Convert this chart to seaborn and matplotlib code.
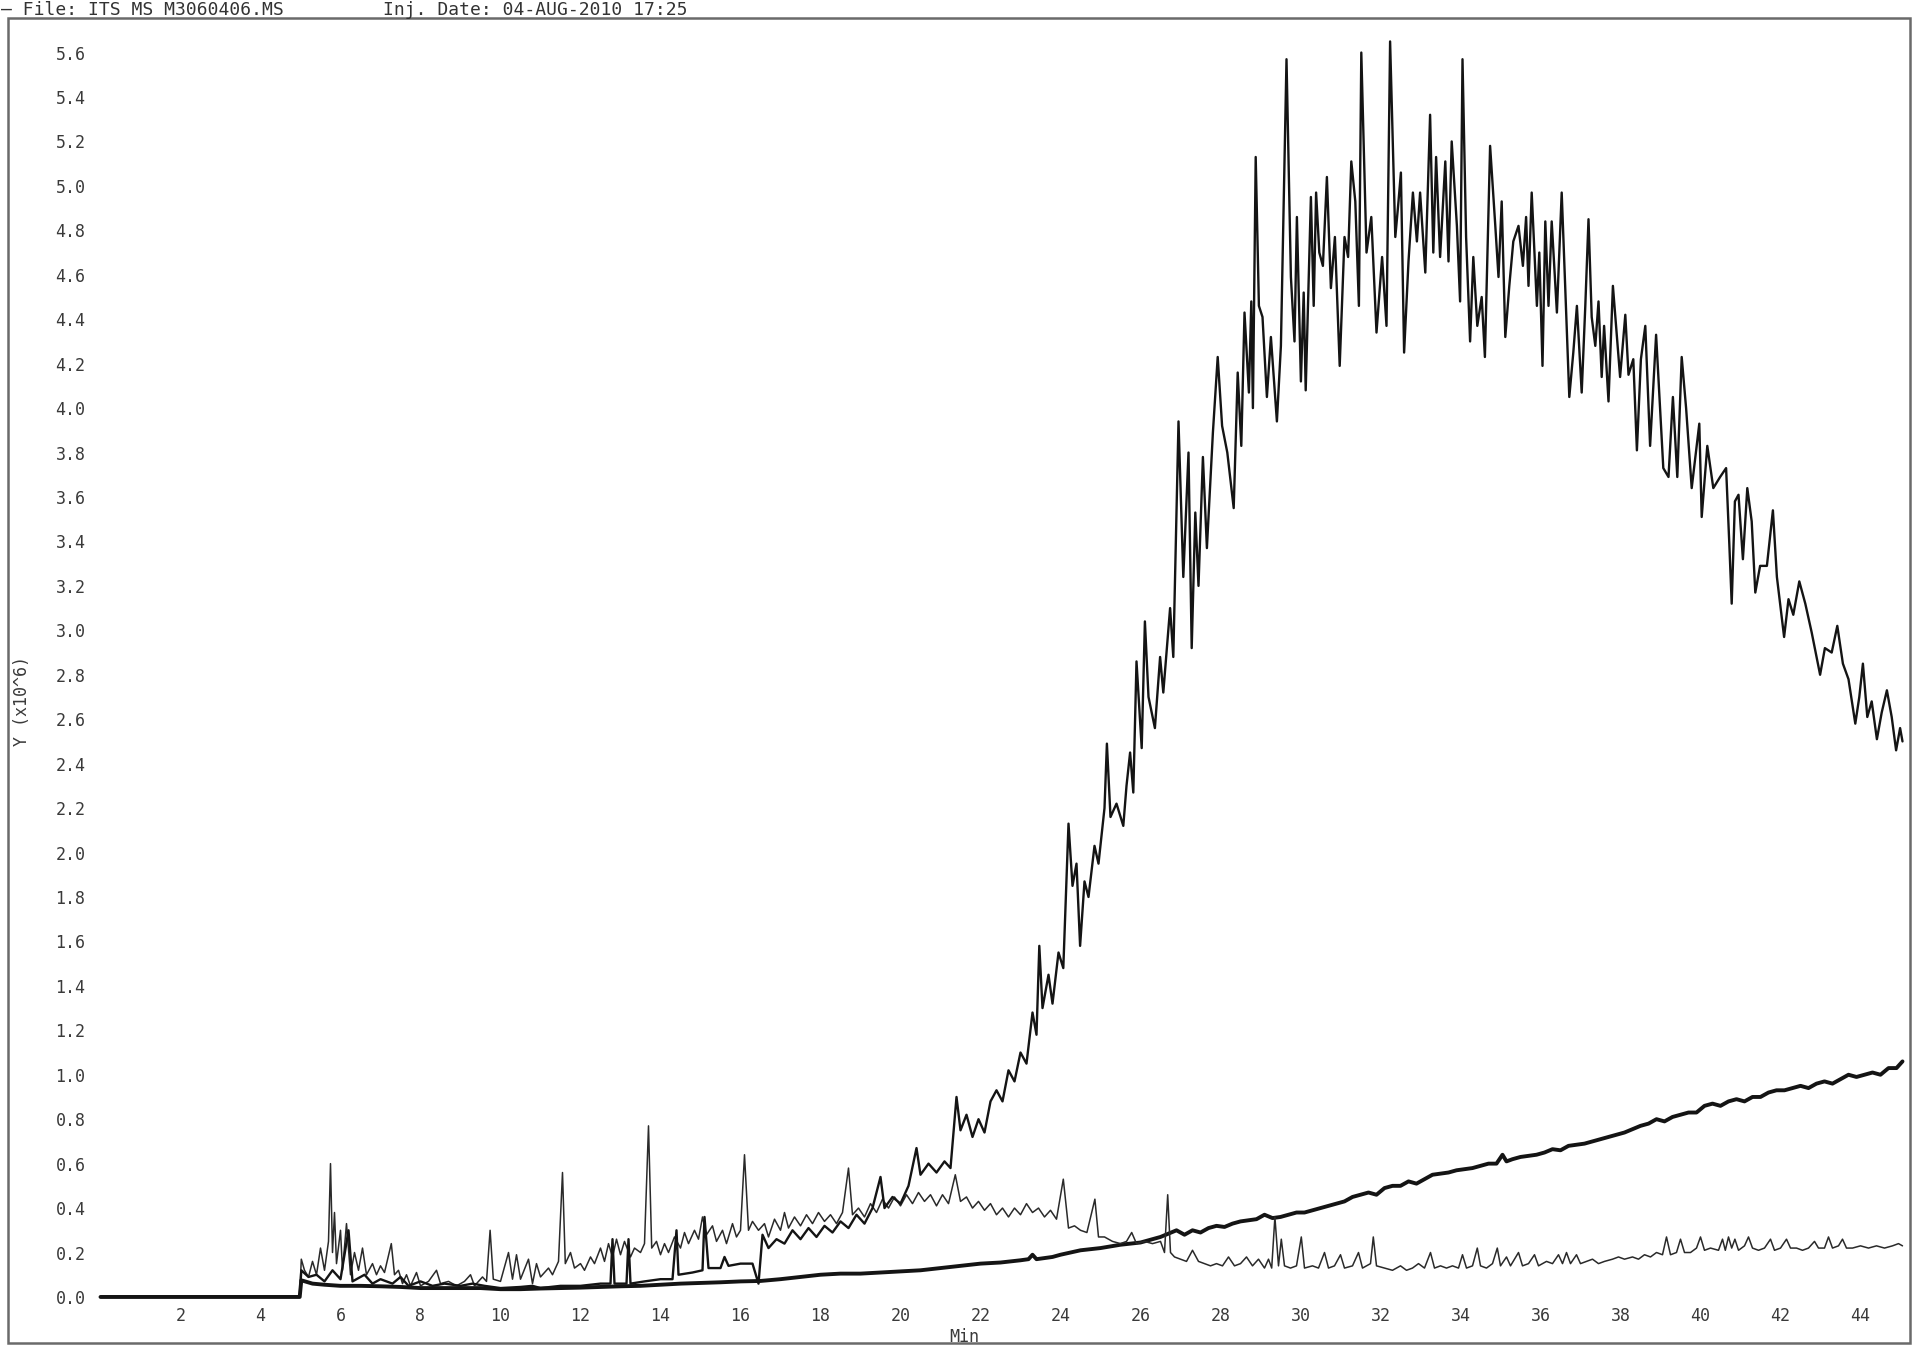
import numpy as np
import pandas as pd
import matplotlib
matplotlib.use("Agg")
import matplotlib.pyplot as plt
from matplotlib.ticker import MultipleLocator, FormatStrFormatter
from matplotlib.patches import Rectangle
import seaborn as sns

# ---------------- data ----------------
# Trace A: large hump (TIC-like)
a_time = [0.0, 4.98, 5.02, 5.2, 5.4, 5.6, 5.8, 6.0, 6.2, 6.3, 6.6, 6.8, 7.0, 7.3, 7.5, 7.7, 8.0, 8.3, 8.6, 9.0,
          9.3, 9.6, 10.0, 10.5, 10.8, 11.0, 11.5, 12.0, 12.5, 12.75, 12.8, 12.85, 13.15, 13.2, 13.25, 13.6, 14.0,
          14.3, 14.4, 14.45, 14.8, 15.05, 15.1, 15.2, 15.5, 15.6, 15.7, 16.0, 16.3, 16.45, 16.55, 16.7, 16.9,
          17.1, 17.3, 17.5, 17.7, 17.9, 18.1, 18.3, 18.5, 18.7, 18.9, 19.1, 19.3, 19.5, 19.6, 19.8, 20.0, 20.2,
          20.4, 20.5, 20.7, 20.9, 21.1, 21.25, 21.4, 21.5, 21.65, 21.8, 21.95, 22.1, 22.25, 22.4, 22.55, 22.7,
          22.85, 23.0, 23.15, 23.3, 23.4, 23.47, 23.55, 23.7, 23.8, 23.95, 24.07, 24.2, 24.3, 24.4, 24.49, 24.6,
          24.7, 24.85, 24.95, 25.1, 25.16, 25.25, 25.4, 25.57, 25.65, 25.74, 25.82, 25.9, 26.03, 26.11, 26.2,
          26.36, 26.49, 26.57, 26.74, 26.82, 26.95, 27.07, 27.2, 27.28, 27.37, 27.45, 27.56, 27.66, 27.81, 27.93,
          28.04, 28.17, 28.33, 28.43, 28.52, 28.6, 28.71, 28.77, 28.81, 28.88, 28.96, 29.05, 29.16, 29.26, 29.41,
          29.51, 29.65, 29.76, 29.85, 29.91, 30.01, 30.08, 30.13, 30.26, 30.33, 30.39, 30.47, 30.56, 30.66, 30.76,
          30.86, 30.98, 31.1, 31.19, 31.27, 31.37, 31.46, 31.52, 31.65, 31.77, 31.9, 32.04, 32.15, 32.24, 32.37,
          32.45, 32.51, 32.59, 32.7, 32.81, 32.91, 32.99, 33.12, 33.24, 33.32, 33.39, 33.49, 33.62, 33.7, 33.78,
          33.91, 33.99, 34.05, 34.14, 34.24, 34.32, 34.42, 34.53, 34.61, 34.74, 34.87, 34.95, 35.03, 35.12, 35.22,
          35.32, 35.45, 35.56, 35.64, 35.7, 35.78, 35.91, 35.97, 36.05, 36.12, 36.2, 36.28, 36.41, 36.53, 36.64,
          36.72, 36.82, 36.91, 37.03, 37.12, 37.2, 37.28, 37.37, 37.45, 37.53, 37.59, 37.7, 37.81, 37.91, 37.99,
          38.12, 38.2, 38.32, 38.41, 38.51, 38.62, 38.74, 38.89, 39.07, 39.2, 39.31, 39.42, 39.53, 39.64, 39.78,
          39.97, 40.03, 40.17, 40.32, 40.49, 40.64, 40.72, 40.78, 40.86, 40.95, 41.06, 41.17, 41.28, 41.37, 41.49,
          41.66, 41.81, 41.91, 42.09, 42.2, 42.32, 42.47, 42.62, 42.78, 42.99, 43.11, 43.28, 43.42, 43.56, 43.7,
          43.87, 43.97, 44.06, 44.17, 44.28, 44.41, 44.53, 44.66, 44.78, 44.89, 44.99, 45.05]
a_val = [0.0, 0.0, 0.12, 0.09, 0.1, 0.07, 0.12, 0.08, 0.3, 0.07, 0.1, 0.06, 0.08, 0.06, 0.09, 0.05, 0.07, 0.05, 0.06, 0.05,
         0.06, 0.05, 0.04, 0.045, 0.05, 0.04, 0.05, 0.05, 0.06, 0.06, 0.26, 0.06, 0.06, 0.26, 0.06, 0.07, 0.08,
         0.08, 0.3, 0.1, 0.11, 0.12, 0.36, 0.13, 0.13, 0.18, 0.14, 0.15, 0.15, 0.06, 0.28, 0.22, 0.26,
         0.24, 0.3, 0.26, 0.31, 0.27, 0.32, 0.29, 0.34, 0.31, 0.37, 0.33, 0.4, 0.54, 0.4, 0.45, 0.42, 0.5,
         0.67, 0.55, 0.6, 0.56, 0.61, 0.58, 0.9, 0.75, 0.82, 0.72, 0.8, 0.74, 0.88, 0.93, 0.88, 1.02,
         0.97, 1.1, 1.05, 1.28, 1.18, 1.58, 1.3, 1.45, 1.32, 1.55, 1.48, 2.13, 1.85, 1.95, 1.58, 1.87,
         1.8, 2.03, 1.95, 2.2, 2.49, 2.16, 2.22, 2.12, 2.3, 2.45, 2.27, 2.86, 2.47, 3.04, 2.7,
         2.56, 2.88, 2.72, 3.1, 2.88, 3.94, 3.24, 3.8, 2.92, 3.53, 3.2, 3.78, 3.37, 3.89, 4.23,
         3.92, 3.8, 3.55, 4.16, 3.83, 4.43, 4.07, 4.48, 4.0, 5.13, 4.46, 4.41, 4.05, 4.32, 3.94,
         4.28, 5.57, 4.59, 4.3, 4.86, 4.12, 4.52, 4.08, 4.95, 4.46, 4.97, 4.7, 4.64, 5.04, 4.54,
         4.77, 4.19, 4.77, 4.68, 5.11, 4.93, 4.46, 5.6, 4.7, 4.86, 4.34, 4.68, 4.37, 5.65, 4.77,
         4.93, 5.06, 4.25, 4.66, 4.97, 4.75, 4.97, 4.61, 5.32, 4.7, 5.13, 4.68, 5.11, 4.66, 5.2,
         4.82, 4.48, 5.57, 4.77, 4.3, 4.68, 4.37, 4.5, 4.23, 5.18, 4.82, 4.59, 4.93, 4.32, 4.55,
         4.75, 4.82, 4.64, 4.86, 4.55, 4.97, 4.46, 4.7, 4.19, 4.84, 4.46, 4.84, 4.43, 4.97, 4.43,
         4.05, 4.25, 4.46, 4.07, 4.46, 4.85, 4.41, 4.28, 4.48, 4.14, 4.37, 4.03, 4.55, 4.32, 4.14,
         4.42, 4.15, 4.22, 3.81, 4.22, 4.37, 3.83, 4.33, 3.73, 3.69, 4.05, 3.69, 4.23, 4.0, 3.64,
         3.93, 3.51, 3.83, 3.64, 3.69, 3.73, 3.39, 3.12, 3.58, 3.61, 3.32, 3.64, 3.49, 3.17, 3.29,
         3.29, 3.54, 3.24, 2.97, 3.14, 3.07, 3.22, 3.12, 2.99, 2.8, 2.92, 2.9, 3.02, 2.85, 2.78,
         2.58, 2.7, 2.85, 2.61, 2.68, 2.51, 2.63, 2.73, 2.61, 2.46, 2.56, 2.5]

# Trace B: thin noisy trace with sharp peaks
b_time = [0.0, 4.98, 5.02, 5.1, 5.2, 5.3, 5.4, 5.5, 5.6, 5.7, 5.75, 5.8, 5.85, 5.9, 6.0, 6.05, 6.15, 6.25, 6.35, 6.45,
          6.55, 6.65, 6.8, 6.9, 7.0, 7.1, 7.27, 7.35, 7.45, 7.55, 7.65, 7.75, 7.9, 8.0, 8.2, 8.4, 8.5, 8.7, 8.9,
          9.1, 9.25, 9.35, 9.55, 9.65, 9.74, 9.82, 10.0, 10.2, 10.3, 10.4, 10.5, 10.7, 10.8, 10.9, 11.0, 11.2,
          11.3, 11.45, 11.55, 11.62, 11.75, 11.85, 12.0, 12.1, 12.25, 12.35, 12.5, 12.6, 12.7, 12.8, 12.9, 13.0,
          13.1, 13.25, 13.35, 13.5, 13.6, 13.7, 13.78, 13.9, 14.0, 14.1, 14.2, 14.35, 14.5, 14.6, 14.7, 14.85,
          14.95, 15.05, 15.15, 15.3, 15.4, 15.55, 15.65, 15.8, 15.9, 16.0, 16.1, 16.2, 16.3, 16.45, 16.6, 16.7,
          16.85, 17.0, 17.1, 17.2, 17.35, 17.5, 17.65, 17.8, 17.95, 18.1, 18.25, 18.4, 18.55, 18.7, 18.8, 18.95,
          19.1, 19.25, 19.4, 19.55, 19.7, 19.85, 20.0, 20.15, 20.3, 20.45, 20.6, 20.75, 20.9, 21.05, 21.2, 21.37,
          21.5, 21.65, 21.8, 21.95, 22.1, 22.25, 22.4, 22.55, 22.7, 22.85, 23.0, 23.15, 23.3, 23.45, 23.6, 23.75,
          23.9, 24.07, 24.2, 24.35, 24.5, 24.66, 24.86, 24.95, 25.1, 25.3, 25.5, 25.65, 25.78, 25.9, 26.1, 26.3,
          26.5, 26.6, 26.68, 26.75, 26.85, 27.0, 27.15, 27.3, 27.45, 27.6, 27.75, 27.9, 28.05, 28.2, 28.35, 28.5,
          28.65, 28.8, 28.95, 29.1, 29.2, 29.28, 29.36, 29.45, 29.52, 29.6, 29.75, 29.9, 30.02, 30.1, 30.3, 30.45,
          30.6, 30.7, 30.85, 31.0, 31.1, 31.3, 31.45, 31.55, 31.75, 31.82, 31.9, 32.1, 32.3, 32.5, 32.65, 32.8,
          32.95, 33.1, 33.25, 33.35, 33.5, 33.65, 33.8, 33.95, 34.05, 34.15, 34.3, 34.42, 34.5, 34.65, 34.8, 34.92,
          35.0, 35.15, 35.25, 35.45, 35.55, 35.7, 35.85, 35.95, 36.15, 36.3, 36.45, 36.55, 36.65, 36.75, 36.9,
          37.0, 37.15, 37.3, 37.45, 37.6, 37.8, 37.95, 38.1, 38.3, 38.45, 38.6, 38.75, 38.9, 39.05, 39.15, 39.25,
          39.4, 39.5, 39.6, 39.75, 39.9, 40.0, 40.1, 40.25, 40.45, 40.55, 40.62, 40.7, 40.78, 40.86, 40.95, 41.1,
          41.2, 41.3, 41.45, 41.6, 41.75, 41.85, 42.0, 42.15, 42.25, 42.4, 42.55, 42.7, 42.85, 42.95, 43.1, 43.2,
          43.3, 43.45, 43.55, 43.65, 43.8, 44.0, 44.2, 44.4, 44.6, 44.8, 44.95, 45.05]
b_val = [0.0, 0.0, 0.17, 0.12, 0.09, 0.16, 0.1, 0.22, 0.12, 0.25, 0.6, 0.2, 0.38, 0.15, 0.3, 0.12, 0.33, 0.1, 0.2, 0.12,
         0.22, 0.1, 0.15, 0.1, 0.14, 0.11, 0.24, 0.1, 0.12, 0.06, 0.1, 0.05, 0.11, 0.05, 0.07, 0.12, 0.06, 0.07, 0.05,
         0.07, 0.1, 0.05, 0.09, 0.07, 0.3, 0.08, 0.07, 0.2, 0.08, 0.19, 0.08, 0.17, 0.06, 0.15, 0.09, 0.13,
         0.1, 0.16, 0.56, 0.15, 0.2, 0.13, 0.15, 0.12, 0.18, 0.15, 0.22, 0.16, 0.24, 0.18, 0.26, 0.19,
         0.25, 0.18, 0.22, 0.2, 0.24, 0.77, 0.22, 0.25, 0.19, 0.24, 0.2, 0.27, 0.22, 0.29, 0.24, 0.3,
         0.26, 0.36, 0.28, 0.32, 0.25, 0.3, 0.24, 0.33, 0.27, 0.3, 0.64, 0.3, 0.34, 0.3, 0.33, 0.27,
         0.35, 0.3, 0.38, 0.31, 0.36, 0.32, 0.37, 0.33, 0.38, 0.34, 0.37, 0.33, 0.38, 0.58, 0.37, 0.4,
         0.36, 0.42, 0.38, 0.44, 0.4, 0.45, 0.41, 0.46, 0.42, 0.47, 0.43, 0.46, 0.41, 0.46, 0.42, 0.55,
         0.43, 0.45, 0.4, 0.43, 0.39, 0.42, 0.37, 0.4, 0.36, 0.4, 0.37, 0.42, 0.38, 0.4, 0.36, 0.39,
         0.35, 0.53, 0.31, 0.32, 0.3, 0.29, 0.44, 0.27, 0.27, 0.25, 0.24, 0.25, 0.29, 0.24, 0.25, 0.24,
         0.25, 0.2, 0.46, 0.2, 0.18, 0.17, 0.16, 0.21, 0.16, 0.15, 0.14, 0.15, 0.14, 0.18, 0.14, 0.15,
         0.18, 0.14, 0.17, 0.13, 0.17, 0.13, 0.36, 0.14, 0.26, 0.14, 0.13, 0.14, 0.27, 0.13, 0.14, 0.13,
         0.2, 0.13, 0.14, 0.19, 0.13, 0.14, 0.2, 0.13, 0.15, 0.27, 0.14, 0.13, 0.12, 0.14, 0.12, 0.13,
         0.15, 0.13, 0.2, 0.13, 0.14, 0.13, 0.14, 0.13, 0.19, 0.13, 0.14, 0.22, 0.14, 0.13, 0.15, 0.22,
         0.14, 0.18, 0.14, 0.2, 0.14, 0.15, 0.19, 0.14, 0.16, 0.15, 0.19, 0.15, 0.2, 0.15, 0.19,
         0.15, 0.16, 0.17, 0.15, 0.16, 0.17, 0.18, 0.17, 0.18, 0.17, 0.19, 0.18, 0.2, 0.19, 0.27, 0.19,
         0.2, 0.26, 0.2, 0.2, 0.22, 0.27, 0.21, 0.22, 0.21, 0.26, 0.21, 0.27, 0.22, 0.26, 0.21, 0.23,
         0.27, 0.22, 0.21, 0.22, 0.26, 0.21, 0.22, 0.26, 0.22, 0.22, 0.21, 0.22, 0.25, 0.22, 0.22, 0.27,
         0.22, 0.23, 0.26, 0.22, 0.22, 0.23, 0.22, 0.23, 0.22, 0.23, 0.24, 0.23]

# Trace C: thick, slowly rising baseline trace
c_time = [0.0, 4.98, 5.02, 5.3, 5.6, 6.0, 6.5, 7.0, 7.5, 8.0, 8.5, 9.0, 9.5, 10.0, 10.5, 11.0, 11.5, 12.0, 12.5,
          13.0, 13.5, 14.0, 14.5, 15.0, 15.5, 16.0, 16.5, 17.0, 17.5, 18.0, 18.5, 19.0, 19.5, 20.0, 20.5, 21.0,
          21.5, 22.0, 22.5, 23.0, 23.2, 23.3, 23.4, 23.8, 24.0, 24.5, 25.0, 25.5, 26.0, 26.3, 26.5, 26.7, 26.9,
          27.1, 27.3, 27.5, 27.7, 27.9, 28.1, 28.3, 28.5, 28.7, 28.9, 29.1, 29.3, 29.5, 29.7, 29.9, 30.1, 30.3,
          30.5, 30.7, 30.9, 31.1, 31.3, 31.5, 31.7, 31.9, 32.1, 32.3, 32.5, 32.7, 32.9, 33.1, 33.3, 33.5, 33.7,
          33.9, 34.1, 34.3, 34.5, 34.7, 34.9, 35.05, 35.15, 35.3, 35.5, 35.7, 35.9, 36.1, 36.3, 36.5, 36.7, 36.9,
          37.1, 37.3, 37.5, 37.7, 37.9, 38.1, 38.3, 38.5, 38.7, 38.9, 39.1, 39.3, 39.5, 39.7, 39.9, 40.1, 40.3,
          40.5, 40.7, 40.9, 41.1, 41.3, 41.5, 41.7, 41.9, 42.1, 42.3, 42.5, 42.7, 42.9, 43.1, 43.3, 43.5, 43.7,
          43.9, 44.1, 44.3, 44.5, 44.7, 44.9, 45.05]
c_val = [0.0, 0.0, 0.075, 0.06, 0.055, 0.05, 0.05, 0.048, 0.045, 0.04, 0.04, 0.04, 0.04, 0.035, 0.035, 0.038, 0.04,
         0.042, 0.045, 0.048, 0.05, 0.055, 0.06, 0.063, 0.066, 0.07, 0.072, 0.08, 0.09, 0.1, 0.105, 0.105, 0.11,
         0.115, 0.12, 0.13, 0.14, 0.15, 0.155, 0.165, 0.17, 0.19, 0.17, 0.18, 0.19, 0.21, 0.22, 0.235, 0.245,
         0.26, 0.27, 0.285, 0.3, 0.28, 0.3, 0.29, 0.31, 0.32, 0.315, 0.33, 0.34, 0.345, 0.35, 0.37, 0.355, 0.36,
         0.37, 0.38, 0.38, 0.39, 0.4, 0.41, 0.42, 0.43, 0.45, 0.46, 0.47, 0.46, 0.49, 0.5, 0.5, 0.52, 0.51, 0.53,
         0.55, 0.555, 0.56, 0.57, 0.575, 0.58, 0.59, 0.6, 0.6, 0.64, 0.61, 0.62, 0.63, 0.635, 0.64, 0.65, 0.665,
         0.66, 0.68, 0.685, 0.69, 0.7, 0.71, 0.72, 0.73, 0.74, 0.755, 0.77, 0.78, 0.8, 0.79, 0.81, 0.82, 0.83,
         0.83, 0.86, 0.87, 0.86, 0.88, 0.89, 0.88, 0.9, 0.9, 0.92, 0.93, 0.93, 0.94, 0.95, 0.94, 0.96, 0.97, 0.96,
         0.98, 1.0, 0.99, 1.0, 1.01, 1.0, 1.03, 1.03, 1.06]

x_ticks = [2, 4, 6, 8, 10, 12, 14, 16, 18, 20, 22, 24, 26, 28, 30, 32, 34, 36, 38, 40, 42, 44]
y_ticks = [0.0, 0.2, 0.4, 0.6, 0.8, 1.0, 1.2, 1.4, 1.6, 1.8, 2.0, 2.2, 2.4, 2.6, 2.8, 3.0, 3.2, 3.4, 3.6, 3.8,
           4.0, 4.2, 4.4, 4.6, 4.8, 5.0, 5.2, 5.4, 5.6]

header_file = "\u2014 File: ITS MS M3060406.MS"
header_date = "Inj. Date: 04-AUG-2010 17:25"

# ---------------- drawing ----------------
sns.set_style("white")
plt.rcParams["font.family"] = ["DejaVu Sans Mono", "DejaVu Sans"]

W, H = 1913, 1345
fig = plt.figure(figsize=(W / 100, H / 100), dpi=100)
fig.patch.set_facecolor("white")

# axes geometry in pixels
x_left_px, x_right_px = 96.5, 1908.5
y_top_px, y_bot_px = 27.0, 1301.4
ax = fig.add_axes([x_left_px / W, 1 - y_bot_px / H, (x_right_px - x_left_px) / W, (y_bot_px - y_top_px) / H])
ax.set_facecolor("none")

ink = "#141414"
sns.lineplot(x=c_time, y=c_val, ax=ax, sort=False, estimator=None, color=ink, lw=2.8)
sns.lineplot(x=b_time, y=b_val, ax=ax, sort=False, estimator=None, color="#2a2a2a", lw=1.1)
sns.lineplot(x=a_time, y=a_val, ax=ax, sort=False, estimator=None, color=ink, lw=1.7)

ax.set_xlim(-0.1, 45.2)
ax.set_ylim(-0.02, 5.715)
for s in ax.spines.values():
    s.set_visible(False)

txt = "#3a3a3a"
ax.set_xticks(x_ticks)
ax.set_yticks(y_ticks)
ax.yaxis.set_major_formatter(FormatStrFormatter("%.1f"))
ax.xaxis.set_minor_locator(MultipleLocator(0.5))
ax.yaxis.set_minor_locator(MultipleLocator(0.04))
ax.tick_params(axis="x", which="major", direction="out", length=4, width=1.0, color="#666666",
               labelsize=12, labelcolor=txt, pad=0)
ax.tick_params(axis="x", which="minor", direction="out", length=2.5, width=0.8, color="#999999")
ax.tick_params(axis="y", which="major", direction="out", length=6, width=1.0, color="#666666",
               labelsize=12, labelcolor=txt, pad=2)
ax.tick_params(axis="y", which="minor", direction="out", length=2, width=0.9, color="#999999")
ax.set_xlabel("")
ax.set_ylabel("")
ax.grid(False)

# outer frame of the printout
fig.add_artist(Rectangle((8 / W, 1 - 1343 / H), (1910 - 8) / W, (1343 - 18) / H,
                         transform=fig.transFigure, fill=False, edgecolor="#6a6a6a", lw=1.8))

# labels
fig.text(22 / W, 1 - 701 / H, "Y (x10^6)", rotation=90, ha="center", va="center", fontsize=12, color=txt)
fig.text(964 / W, 1 - 1337 / H, "Min", ha="center", va="center", fontsize=12, color=txt)
fig.text(1 / W, 1 - 15 / H, header_file, ha="left", va="baseline", fontsize=13, color="#333333")
fig.text(383 / W, 1 - 15 / H, header_date, ha="left", va="baseline", fontsize=13, color="#333333")

fig.savefig("out.png", dpi=100, facecolor="white")
